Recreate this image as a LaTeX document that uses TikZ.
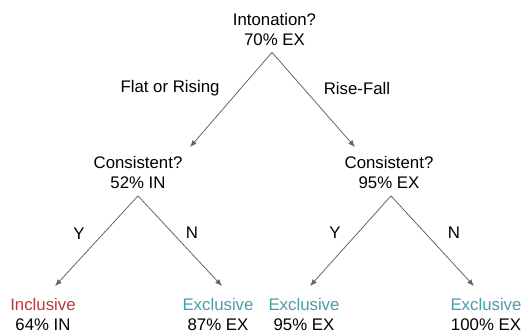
\documentclass[tikz,border=0pt]{standalone}
\usepackage{fontspec}
\setmainfont{Liberation Sans}
\usepackage{xcolor}
\usepackage{tikz}
\usetikzlibrary{positioning,arrows.meta}
\definecolor{inred}{RGB}{192,57,52}
\definecolor{exteal}{RGB}{72,158,170}
\definecolor{edgegray}{RGB}{102,102,102}

\begin{document}
\begin{tikzpicture}[
    x=1pt, y=-1pt,   % pixel-like units, y going down
    split/.style = {align=center, inner sep=0pt, font=\fontsize{16.8}{20}\selectfont},
    leaf/.style = {split},
    lbl/.style = {inner sep=0pt, font=\fontsize{16.8}{20}\selectfont},
    arr/.style = {draw=edgegray, line width=0.8pt, -{Latex[length=7pt,width=5.5pt]}}
  ]
    \useasboundingbox (0,0) rectangle (532,335);

    \node[split] (root) at (274.5,29) {Intonation?\\70\% EX};
    \node[split] (lc) at (138,172.5) {Consistent?\\52\% IN};
    \node[split] (rc) at (389,172.5) {Consistent?\\95\% EX};

    \node[leaf] (ll) at (43,314.5) {\textcolor{inred}{Inclusive}\\64\% IN};
    \node[leaf] (lr) at (218,314.5) {\textcolor{exteal}{Exclusive}\\87\% EX};
    \node[leaf] (rl) at (304,314.5) {\textcolor{exteal}{Exclusive}\\95\% EX};
    \node[leaf] (rr) at (486,314.5) {\textcolor{exteal}{Exclusive}\\100\% EX};

    % branch labels
    \node[lbl] (flat) at (170,88) {Flat or Rising};
    \node[lbl] (fall) at (357,88) {Rise-Fall};
    \node[lbl] (ly) at (79,234) {Y};
    \node[lbl] (ln) at (192,233) {N};
    \node[lbl] (ry) at (335,233) {Y};
    \node[lbl] (rn) at (454,233) {N};

    \draw[arr] ([shift={(-2.5,7)}]root.south) -- ([shift={(52,-9)}]lc.north);
    \draw[arr] ([shift={(-2.5,7)}]root.south) -- ([shift={(-34,-9)}]rc.north);

    \draw[arr] ([shift={(0,7)}]lc.south) -- ([shift={(12,-12)}]ll.north);
    \draw[arr] ([shift={(0,7)}]lc.south) -- ([shift={(4,-12)}]lr.north);

    \draw[arr] ([shift={(2,7)}]rc.south) -- ([shift={(6,-12)}]rl.north);
    \draw[arr] ([shift={(2,7)}]rc.south) -- ([shift={(-12,-12)}]rr.north);

  \end{tikzpicture}
\end{document}
